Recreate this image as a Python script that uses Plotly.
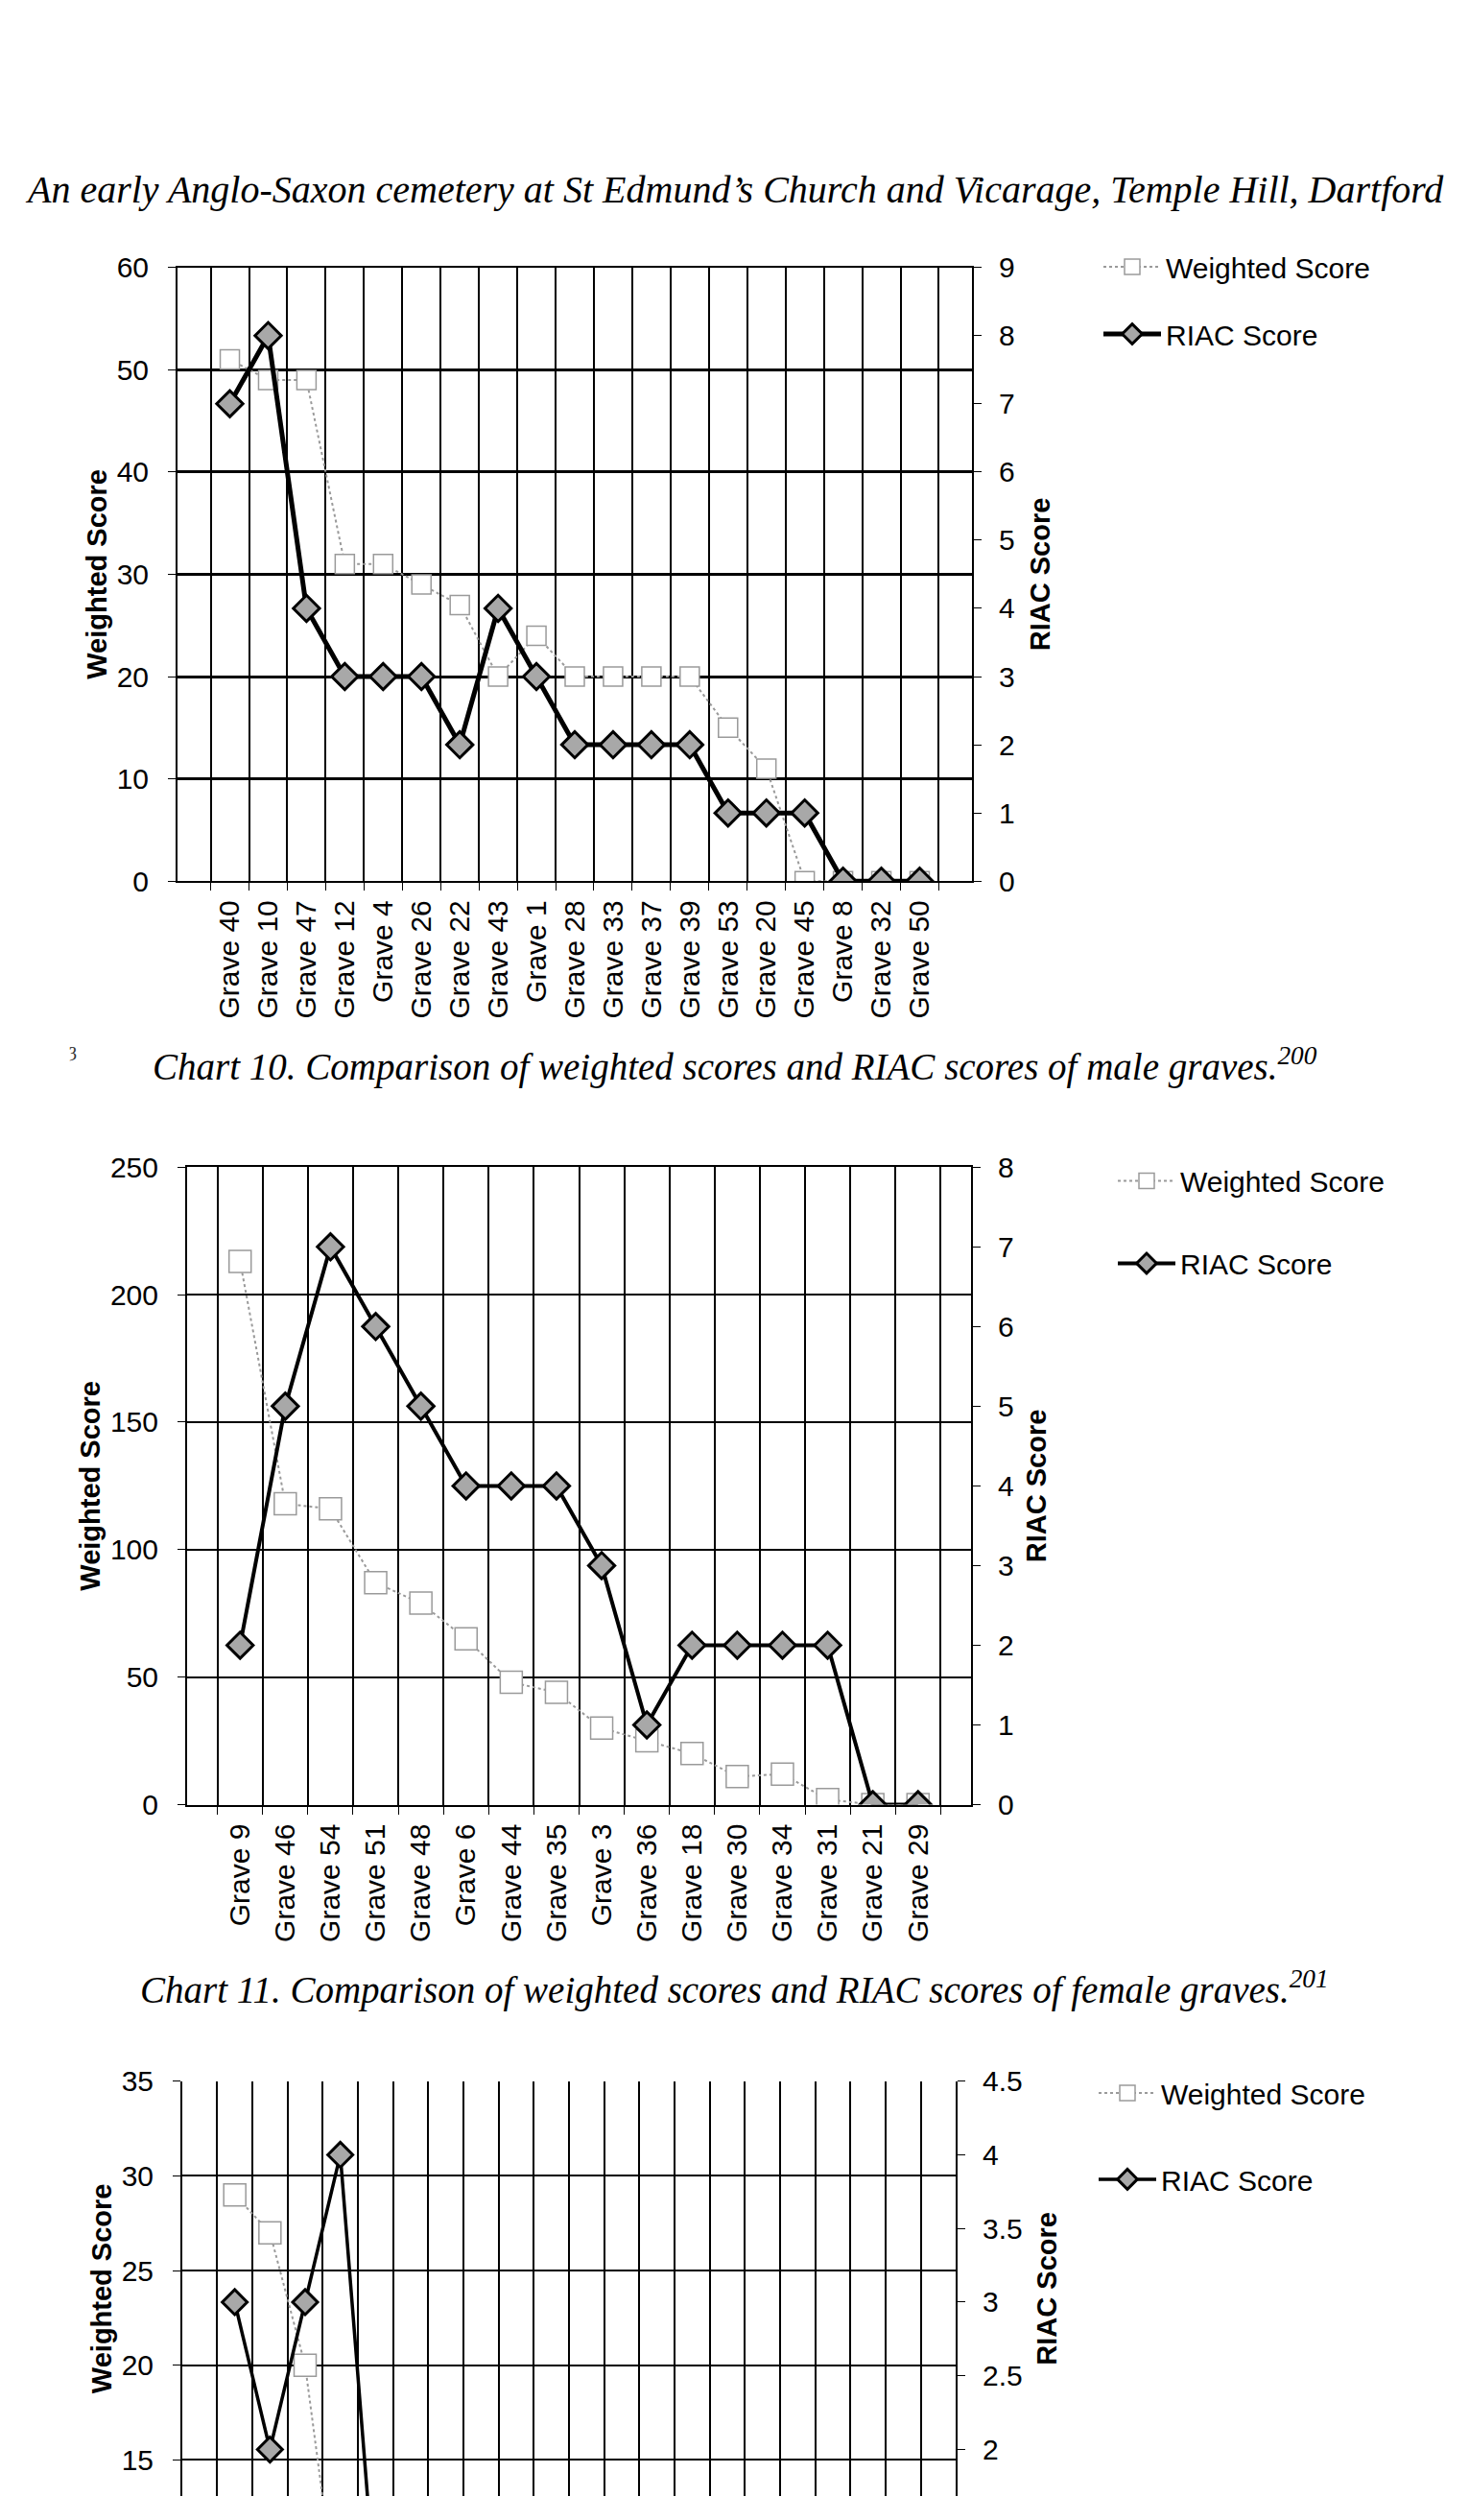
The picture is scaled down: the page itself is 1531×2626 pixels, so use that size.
import plotly.graph_objects as go

# ---------------- data ----------------
male_graves = ["Grave 40", "Grave 10", "Grave 47", "Grave 12", "Grave 4", "Grave 26",
               "Grave 22", "Grave 43", "Grave 1", "Grave 28", "Grave 33", "Grave 37",
               "Grave 39", "Grave 53", "Grave 20", "Grave 45", "Grave 8", "Grave 32", "Grave 50"]
male_weighted = [51, 49, 49, 31, 31, 29, 27, 20, 24, 20, 20, 20, 20, 15, 11, 0, 0, 0, 0]
male_riac = [7, 8, 4, 3, 3, 3, 2, 4, 3, 2, 2, 2, 2, 1, 1, 1, 0, 0, 0]

female_graves = ["Grave 9", "Grave 46", "Grave 54", "Grave 51", "Grave 48", "Grave 6",
                 "Grave 44", "Grave 35", "Grave 3", "Grave 36", "Grave 18", "Grave 30",
                 "Grave 34", "Grave 31", "Grave 21", "Grave 29"]
female_weighted = [213, 118, 116, 87, 79, 65, 48, 44, 30, 25, 20, 11, 12, 2, 0, 0]
female_riac = [2, 5, 7, 6, 5, 4, 4, 4, 3, 1, 2, 2, 2, 2, 0, 0]

# third chart: cut off at the bottom of the page, grave labels not visible
third_graves = ["1", "2", "3", "4", "5", "6", "7", "8", "9", "10",
                "11", "12", "13", "14", "15", "16", "17", "18", "19", "20"]
third_weighted = [29, 27, 20, 6, None, None, None, None, None, None,
                  None, None, None, None, None, None, None, None, None, None]
third_riac = [3, 2, 3, 4, 1, None, None, None, None, None,
              None, None, None, None, None, None, None, None, None, None]

title_text = "An early Anglo-Saxon cemetery at St Edmund\u2019s Church and Vicarage, Temple Hill, Dartford"
caption1 = "Chart 10. Comparison of weighted scores and RIAC scores of male graves.<sup>200</sup>"
caption2 = "Chart 11. Comparison of weighted scores and RIAC scores of female graves.<sup>201</sup>"

# ---------------- layout helpers ----------------
W, H = 1515, 2610
OFF = 8  # page body margin


def xd(px):
    return (px - OFF) / W


def yd(py):
    return 1 - (py - OFF) / H


SANS = "Liberation Sans, Arial, sans-serif"
SERIF = "Liberation Serif, Times New Roman, serif"
TICKF = dict(family=SANS, size=30, color="black")
GRAY = "#9a9a9a"

fig = go.Figure()

charts = [
    dict(cats=male_graves, w=male_weighted, r=male_riac, xa="x", ya="y", ya2="y2",
         leg="legend", lw=5, sq=20, dm=21),
    dict(cats=female_graves, w=female_weighted, r=female_riac, xa="x2", ya="y3", ya2="y4",
         leg="legend2", lw=4, sq=23, dm=21),
    dict(cats=third_graves, w=third_weighted, r=third_riac, xa="x3", ya="y5", ya2="y6",
         leg="legend3", lw=3.5, sq=23, dm=20),
]

for c in charts:
    fig.add_trace(go.Scatter(
        x=c["cats"], y=c["w"], name="Weighted Score", mode="lines+markers",
        xaxis=c["xa"], yaxis=c["ya"], legend=c["leg"], legendgroup="w" + c["leg"],
        line=dict(color=GRAY, width=2, dash="dot"),
        marker=dict(symbol="square", size=c["sq"], color="white",
                    line=dict(color=GRAY, width=1.5)),
        connectgaps=False, cliponaxis=True,
    ))
    fig.add_trace(go.Scatter(
        x=c["cats"], y=c["r"], name="RIAC Score", mode="lines+markers",
        xaxis=c["xa"], yaxis=c["ya2"], legend=c["leg"], legendgroup="r" + c["leg"],
        line=dict(color="black", width=c["lw"]),
        marker=dict(symbol="diamond", size=c["dm"], color="#a8a8a8",
                    line=dict(color="black", width=3)),
        connectgaps=False, cliponaxis=True,
    ))


def xaxis(dom, anchor, gw, showlabels=True, showline=True):
    return dict(domain=dom, anchor=anchor, type="category", tickson="boundaries",
                showgrid=True, gridcolor="black", gridwidth=gw,
                showline=showline, linecolor="black", linewidth=2, mirror=True,
                ticks="outside" if showlabels else "", ticklen=8, tickcolor="black",
                tickangle=-90, tickfont=TICKF, showticklabels=showlabels,
                ticklabelstandoff=6, zeroline=False)


def yleft(dom, anchor, rng, dtick, gw, standoff):
    return dict(domain=dom, anchor=anchor, range=rng, dtick=dtick, tick0=0,
                showgrid=True, gridcolor="black", gridwidth=gw,
                showline=True, linecolor="black", linewidth=2,
                ticks="outside", ticklen=8, tickcolor="black", tickfont=TICKF,
                ticklabelstandoff=14, zeroline=False,
                title=dict(text="<b>Weighted Score</b>", standoff=standoff,
                           font=dict(family=SANS, size=29, color="black")))


def yright(over, anchor, rng, dtick, standoff):
    return dict(overlaying=over, anchor=anchor, side="right", range=rng, dtick=dtick,
                tick0=0, showgrid=False, showline=True, linecolor="black", linewidth=2,
                ticks="outside", ticklen=8, tickcolor="black", tickfont=TICKF,
                ticklabelstandoff=12, zeroline=False,
                title=dict(text="<b>RIAC Score</b>", standoff=standoff,
                           font=dict(family=SANS, size=29, color="black")))


# chart 3 is cut by the page edge: plot bottom at page px 2618, zero line would be at 2880
c3_top, c3_zero, c3_bottom = 2180, 2880, OFF + H
frac = (c3_bottom - c3_top) / (c3_zero - c3_top)
c3_left_low = 35 * (1 - frac)
c3_right_low = 4.5 * (1 - frac)


def legend(x_page, y_page, gap):
    return dict(x=xd(x_page), y=yd(y_page), xanchor="left", yanchor="top",
                font=dict(family=SANS, size=30, color="black"), itemwidth=60,
                traceorder="grouped", tracegroupgap=gap, bgcolor="rgba(0,0,0,0)",
                borderwidth=0)


fig.update_layout(
    width=W, height=H, margin=dict(l=0, r=0, t=0, b=0),
    paper_bgcolor="white", plot_bgcolor="white",
    font=dict(family=SANS, color="black"),
    xaxis=xaxis([xd(185), xd(1013)], "y", 2),
    yaxis=yleft([yd(913), yd(265)], "x", [0, 60], 10, 2.5, 1),
    yaxis2=yright("y", "x", [0, 9], 1, 17),
    xaxis2=xaxis([xd(195), xd(1012)], "y3", 1.5),
    yaxis3=yleft([yd(1888), yd(1215)], "x2", [0, 250], 50, 2, 2),
    yaxis4=yright("y3", "x2", [0, 8], 1, 14),
    xaxis3=xaxis([xd(190), xd(996)], "y5", 1.5, showlabels=False, showline=False),
    yaxis5=yleft([0, yd(2180)], "x3", [c3_left_low, 35], 5, 2, 1),
    yaxis6=yright("y5", "x3", [c3_right_low, 4.5], 0.5, 16),
    legend=legend(1145, 238, 28),
    legend2=legend(1160, 1203, 44),
    legend3=legend(1140, 2166, 48),
)

# page title and chart captions
fig.add_annotation(text="<i>" + title_text + "</i>", x=0.5, y=yd(183), xref="paper",
                   yref="paper", showarrow=False, xanchor="center", yanchor="middle",
                   font=dict(family=SERIF, size=40, color="black"))
fig.add_annotation(text="<i>" + caption1 + "</i>", x=0.5, y=yd(1107), xref="paper",
                   yref="paper", showarrow=False, xanchor="center", yanchor="middle",
                   font=dict(family=SERIF, size=39, color="black"))
fig.add_annotation(text="<i>" + caption2 + "</i>", x=0.5, y=yd(2082), xref="paper",
                   yref="paper", showarrow=False, xanchor="center", yanchor="middle",
                   font=dict(family=SERIF, size=39, color="black"))
# small printed mark in the left margin next to the first caption
fig.add_annotation(text="\u021d", x=xd(76), y=yd(1092), xref="paper", yref="paper",
                   showarrow=False, xanchor="center", yanchor="middle",
                   font=dict(family=SERIF, size=20, color="#333333"))

fig.write_html("out.html")
